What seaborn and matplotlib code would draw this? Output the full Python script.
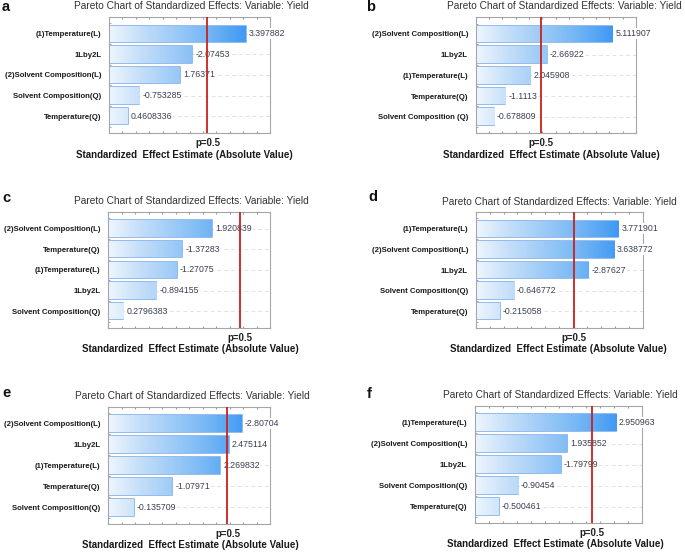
#!/usr/bin/env python3
"""
Pareto charts of standardized effects (six panels a-f), response: Yield
"""

import numpy as np
import pandas as pd
import seaborn as sns
import matplotlib.pyplot as plt
from matplotlib.colors import LinearSegmentedColormap

# critical value drawn as the red reference line (labelled p=0.5 in the source figure)
CRIT = 2.446912

labels_a = ["(1)Temperature(L)", "1Lby2L", "(2)Solvent Composition(L)",
            "Solvent Composition(Q)", "Temperature(Q)"]
effects_a = [3.397882, -2.07453, 1.76371, -0.753285, 0.4608336]

labels_b = ["(2)Solvent Composition(L)", "1Lby2L", "(1)Temperature(L)",
            "Temperature(Q)", "Solvent Composition (Q)"]
effects_b = [5.111907, -2.66922, 2.045908, -1.1113, -0.678809]

labels_c = ["(2)Solvent Composition(L)", "Temperature(Q)", "(1)Temperature(L)",
            "1Lby2L", "Solvent Composition(Q)"]
effects_c = [1.920839, -1.37283, -1.27075, -0.894155, 0.2796383]

labels_d = ["(1)Temperature(L)", "(2)Solvent Composition(L)", "1Lby2L",
            "Solvent Composition(Q)", "Temperature(Q)"]
effects_d = [3.771901, 3.638772, -2.87627, -0.646772, -0.215058]

labels_e = ["(2)Solvent Composition(L)", "1Lby2L", "(1)Temperature(L)",
            "Temperature(Q)", "Solvent Composition(Q)"]
effects_e = [-2.80704, 2.475114, 2.269832, -1.07971, -0.135709]

labels_f = ["(1)Temperature(L)", "(2)Solvent Composition(L)", "1Lby2L",
            "Solvent Composition(Q)", "Temperature(Q)"]
effects_f = [2.950963, 1.935852, -1.79799, -0.90454, -0.500461]

xlims = {"a": (0, 4), "b": (0, 6), "c": (0, 3),
         "d": (-0.5, 4.5), "e": (-0.5, 3.5), "f": (0, 3.5)}

W, H = 685, 552

# pixel boxes: left, right, top, bottom of each plot area
boxes = {"a": (109, 270, 17.3, 132.7), "b": (475.7, 636, 17.3, 133.3),
         "c": (108.3, 270, 212, 327.7), "d": (475.7, 642.7, 212.3, 327.7),
         "e": (108.3, 270, 406.7, 524), "f": (474.7, 642.3, 406, 523.3)}
titles_xy = {"a": (191.5, 6), "b": (564.7, 6), "c": (191.5, 201), "d": (559, 202),
             "e": (192, 396), "f": (560, 395)}
xlab_xy = {"a": (184.7, 155), "b": (551.7, 155), "c": (190, 349.3),
           "d": (558.5, 349.3), "e": (190, 545), "f": (555.8, 544.3)}
letter_xy = {"a": (2, 7), "b": (366, 7), "c": (2, 198), "d": (368, 197),
             "e": (2, 393), "f": (367, 394)}

panels = {"a": (labels_a, effects_a), "b": (labels_b, effects_b),
          "c": (labels_c, effects_c), "d": (labels_d, effects_d),
          "e": (labels_e, effects_e), "f": (labels_f, effects_f)}

sns.set_style("white")
plt.rcParams["font.family"] = ["Liberation Sans", "DejaVu Sans"]

grad = LinearSegmentedColormap.from_list(
    "bluegrad", [(0, "#eef6fe"), (0.2, "#c4def9"), (0.6, "#78b8f5"), (1, "#1e86f2")])

fig = plt.figure(figsize=(W / 100, H / 100), dpi=100)


def px(x, y):
    return x / W, 1 - y / H


for key, (labels, effects) in panels.items():
    l, r, t, b = boxes[key]
    ax = fig.add_axes([l / W, 1 - b / H, (r - l) / W, (b - t) / H])
    df = pd.DataFrame({"Effect": labels, "Value": np.abs(effects)})
    sns.barplot(data=df, x="Value", y="Effect", orient="h", ax=ax,
                color="white", edgecolor="#74aae8", linewidth=1.1, width=0.8,
                zorder=2)
    x0, x1 = xlims[key]

    # bars start at the left edge of the plot area, gradient fill across x
    gx = np.linspace(0, 1, 256).reshape(1, -1)
    for p in ax.patches:
        end = p.get_x() + p.get_width()
        p.set_x(x0)
        p.set_width(end - x0)
        im = ax.imshow(gx, cmap=grad, aspect="auto", extent=(x0, x1, 5, -1),
                       zorder=2.5, interpolation="bilinear")
        im.set_clip_path(p)
    ax.set_xlim(x0, x1)
    ax.set_ylim(4.8, -0.8)

    # light dashed row guides
    for i in range(len(labels)):
        ax.axhline(i, color="#e2e2e2", lw=0.7, ls=(0, (4, 3)), zorder=1)

    for i, v in enumerate(effects):
        ax.annotate(str(v), xy=(abs(v), i), xytext=(3, 0),
                    textcoords="offset pixels", ha="left", va="center",
                    fontsize=6.3, color="#3a4050", zorder=3,
                    bbox=dict(boxstyle="square,pad=0.1", fc="white", ec="none"))

    ax.axvline(CRIT, color="#c8211d", lw=1.3, zorder=4)
    ax.annotate("p=0.5", xy=(CRIT, 0), xycoords=("data", "axes fraction"),
                xytext=(0, -10), textcoords="offset pixels", ha="center",
                va="center", fontsize=7, fontweight="bold", color="#222222")

    ax.set_xlabel("")
    ax.set_ylabel("")
    ax.set_xticks(np.linspace(x0, x1, 13))
    ax.set_yticks(np.arange(-0.5, 5, 1.0), minor=True)
    ax.tick_params(axis="x", which="both", direction="in", length=1.5,
                   color="#9a9a9a", top=True, bottom=True, labelbottom=False)
    ax.tick_params(axis="y", which="major", length=0, pad=5.5)
    ax.tick_params(axis="y", which="minor", direction="in", length=1.5,
                   color="#9a9a9a", left=True)
    for lab in ax.get_yticklabels():
        lab.set_fontsize(5.6)
        lab.set_fontweight("bold")
        lab.set_color("#1a1a1a")
    for s in ax.spines.values():
        s.set_color("#a6a6a6")
        s.set_linewidth(0.8)

    tx, ty = titles_xy[key]
    fig.text(*px(tx, ty), "Pareto Chart of Standardized Effects: Variable: Yield",
             ha="center", va="center", fontsize=7.3, color="#333333")
    lx, ly = xlab_xy[key]
    fig.text(*px(lx, ly), "Standardized  Effect Estimate (Absolute Value)",
             ha="center", va="center", fontsize=7.0, fontweight="bold",
             color="#1a1a1a")
    kx, ky = letter_xy[key]
    fig.text(*px(kx, ky), key, ha="left", va="center", fontsize=10.5,
             fontweight="bold", color="#111111")

fig.savefig("out.png", dpi=100)
